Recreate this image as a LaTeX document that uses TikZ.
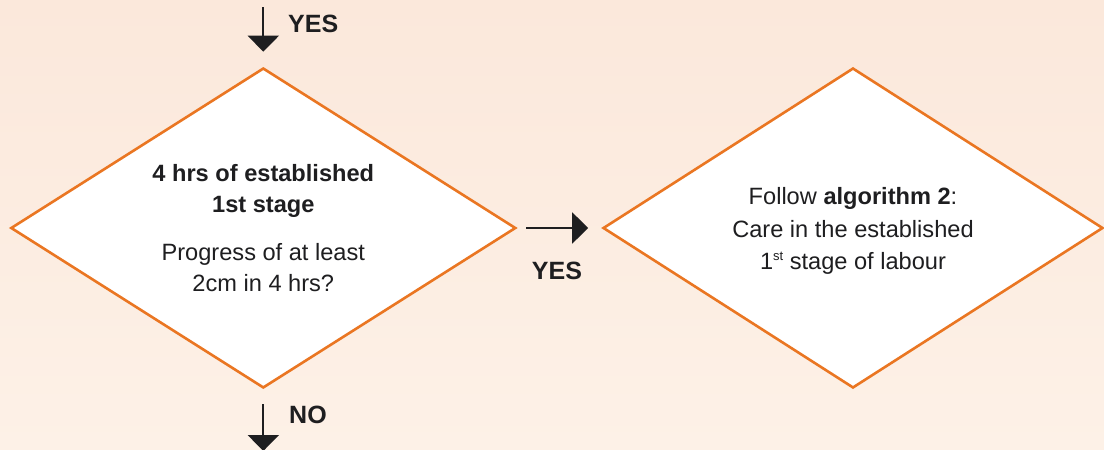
\documentclass[tikz,border=0pt]{standalone}
\usepackage{fontspec}
\setmainfont{Liberation Sans}
\usetikzlibrary{shapes.geometric,arrows.meta}
\definecolor{bgtop}{RGB}{251,232,219}
\definecolor{bgbot}{RGB}{253,241,231}
\definecolor{flowline}{RGB}{234,118,34}
\definecolor{ink}{RGB}{30,30,32}
\begin{document}
\begin{tikzpicture}[x=1pt,y=-1pt,
  decision/.style={diamond, draw=flowline, line width=2.6pt, fill=white,
    minimum height=320pt, inner sep=0pt, align=center, text=ink,
    font=\fontsize{23.6}{31}\selectfont},
  flow/.style={draw=ink, line width=2pt, -{Triangle[width=31pt,length=16pt]}},
  flowlabel/.style={font=\fontsize{25}{30}\selectfont\bfseries, text=ink, inner sep=0pt}]
% page background
\shade[top color=bgtop, bottom color=bgbot] (0,0) rectangle (1104,450);
\useasboundingbox (0,0) rectangle (1104,450);

% decision and outcome
\node[decision, minimum width=505pt, aspect=1.58] (stage) at (263.3,228)
  {\textbf{4 hrs of established}\\\textbf{1st stage}\\[17pt]Progress of at least\\2cm in 4 hrs?};
\node[decision, minimum width=500pt, aspect=1.56, font=\fontsize{23.6}{32.5}\selectfont] (alg) at (853,228)
  {\rule{0pt}{23pt}Follow \textbf{algorithm 2}:\\Care in the established\\1\raisebox{0.75ex}{\fontsize{13}{13}\selectfont st} stage of labour};

% connectors
\coordinate (inTop) at (263.3,7);
\coordinate (outBot) at (263.3,451);
\draw[flow, shorten >=15pt] (inTop) -- (stage.north);
\draw[flow, shorten <=9pt, shorten >=13.5pt] (stage.east) -- (alg.west);
\draw[flow, shorten <=15pt] (stage.south) -- (outBot);

% connector labels
\node[flowlabel, anchor=west] (yesTop) at (288,24) {YES};
\node[flowlabel] (yesMid) at (557,271) {YES};
\node[flowlabel, anchor=west] (noOut) at (289,415) {NO};
\end{tikzpicture}
\end{document}
